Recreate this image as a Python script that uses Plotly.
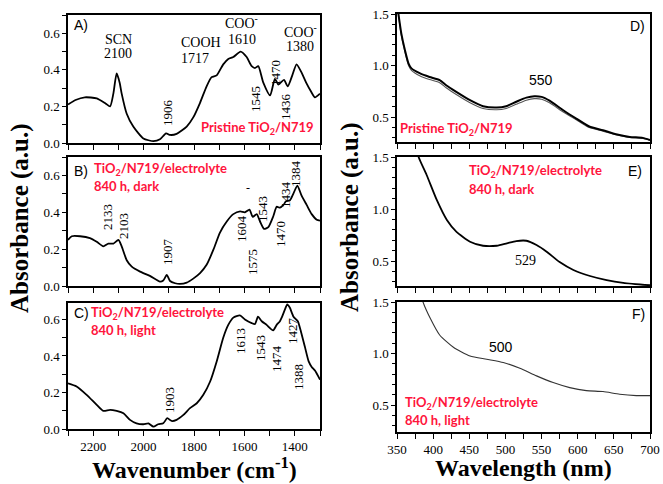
import plotly.graph_objects as go

# ---------------- data ----------------
wn_A = [2300, 2270, 2233, 2186, 2150, 2133, 2120, 2107, 2095, 2087, 2067, 2041, 2001, 1961, 1935,
        1911, 1895, 1869, 1829, 1803, 1776, 1750, 1730, 1710, 1684, 1664, 1644, 1615, 1591, 1571,
        1558, 1545, 1525, 1498, 1479, 1465, 1443, 1428, 1410, 1393, 1375, 1355, 1335, 1320, 1300]
abs_A = [0.21, 0.235, 0.25, 0.244, 0.215, 0.20, 0.27, 0.38, 0.33, 0.27, 0.16, 0.09, 0.025, 0.01, 0.02,
         0.053, 0.044, 0.05, 0.09, 0.14, 0.22, 0.31, 0.36, 0.37, 0.43, 0.46, 0.47, 0.50, 0.47, 0.42,
         0.41, 0.42, 0.33, 0.26, 0.35, 0.32, 0.345, 0.31, 0.37, 0.43, 0.39, 0.33, 0.28, 0.25, 0.27]

wn_B = [2300, 2285, 2252, 2213, 2186, 2160, 2140, 2120, 2100, 2087, 2067, 2047, 2014, 1975, 1935,
        1922, 1908, 1895, 1875, 1856, 1829, 1803, 1776, 1750, 1723, 1697, 1670, 1644, 1617, 1598,
        1580, 1567, 1551, 1538, 1522, 1505, 1485, 1472, 1459, 1445, 1435, 1419, 1406, 1390, 1373,
        1353, 1333, 1313, 1300]
abs_B = [0.25, 0.27, 0.27, 0.26, 0.24, 0.215, 0.23, 0.23, 0.25, 0.215, 0.14, 0.105, 0.078, 0.055, 0.024,
         0.03, 0.06, 0.027, 0.015, 0.011, 0.018, 0.04, 0.07, 0.115, 0.197, 0.29, 0.35, 0.39, 0.405, 0.40,
         0.415, 0.375, 0.39, 0.35, 0.31, 0.32, 0.38, 0.43, 0.425, 0.44, 0.46, 0.465, 0.50, 0.545, 0.49,
         0.44, 0.39, 0.36, 0.355]

wn_C = [2300, 2266, 2226, 2186, 2160, 2133, 2107, 2080, 2054, 2028, 2001, 1981, 1961, 1942, 1922,
        1906, 1889, 1869, 1842, 1816, 1789, 1763, 1736, 1710, 1684, 1664, 1644, 1618, 1598, 1571,
        1558, 1546, 1531, 1512, 1486, 1472, 1459, 1452, 1439, 1430, 1420, 1405, 1388, 1375, 1360,
        1345, 1333, 1320, 1300]
abs_C = [0.25, 0.233, 0.187, 0.132, 0.099, 0.105, 0.099, 0.086, 0.05, 0.031, 0.026, 0.031, 0.013, 0.026, 0.031,
         0.059, 0.044, 0.05, 0.077, 0.114, 0.141, 0.187, 0.26, 0.37, 0.50, 0.57, 0.61, 0.622, 0.60, 0.58,
         0.575, 0.615, 0.59, 0.57, 0.54, 0.57, 0.59, 0.61, 0.655, 0.683, 0.665, 0.615, 0.59, 0.53, 0.45,
         0.37, 0.34, 0.32, 0.27]

wl_D = [348, 352, 356, 361, 366, 370, 382, 395, 409, 418, 432, 451, 469, 488, 501, 515, 529, 540,
        550, 561, 580, 598, 616, 635, 653, 672, 690, 700]
abs_D1 = [1.7, 1.5, 1.31, 1.15, 1.02, 0.973, 0.924, 0.89, 0.86, 0.81, 0.746, 0.665, 0.607, 0.594,
          0.607, 0.65, 0.69, 0.704, 0.697, 0.66, 0.568, 0.487, 0.41, 0.374, 0.335, 0.309, 0.30, 0.28]
abs_D2 = [1.7, 1.49, 1.29, 1.13, 1.0, 0.955, 0.90, 0.865, 0.835, 0.785, 0.72, 0.64, 0.585, 0.572,
          0.585, 0.625, 0.665, 0.68, 0.675, 0.64, 0.55, 0.475, 0.40, 0.365, 0.33, 0.303, 0.295, 0.278]

wl_E = [370, 380, 391, 405, 419, 432, 451, 469, 488, 502, 515, 529, 543, 557, 575, 594, 617, 640,
        663, 700]
abs_E = [1.75, 1.497, 1.327, 1.087, 0.894, 0.782, 0.686, 0.647, 0.647, 0.67, 0.692, 0.695, 0.654,
         0.59, 0.49, 0.414, 0.356, 0.317, 0.291, 0.267]

wl_F = [378, 386, 396, 409, 428, 451, 474, 497, 520, 543, 566, 589, 612, 635, 658, 681, 700]
abs_F = [1.7, 1.5, 1.342, 1.18, 1.061, 0.977, 0.945, 0.913, 0.858, 0.784, 0.719, 0.67, 0.641,
         0.632, 0.606, 0.593, 0.593]

# ---------------- layout helpers ----------------
W, H = 663, 484
def px(x): return x / W
def py(y): return 1 - y / H

SERIF = "Liberation Serif"
SANS = "Liberation Sans"
RED = "rgb(255,20,60)"

fig = go.Figure()
def add(x, y, ax, color="black", width=1.8):
    fig.add_trace(go.Scatter(x=x, y=y, mode="lines", xaxis="x" + ax, yaxis="y" + ax,
                             line=dict(color=color, width=width, shape="spline", smoothing=0.6),
                             showlegend=False, hoverinfo="skip"))

add(wn_A, abs_A, "")
add(wn_B, abs_B, "2")
add(wn_C, abs_C, "3")
add(wl_D, abs_D2, "4", color="#555555", width=1.1)
add(wl_D, abs_D1, "4", color="black", width=2)
add(wl_E, abs_E, "5", color="black", width=1.8)
add(wl_F, abs_F, "6", color="#333333", width=1.1)

common = dict(showline=True, mirror=True, linecolor="black", linewidth=1.5, showgrid=False,
              zeroline=False, ticks="outside", ticklen=5, tickcolor="black", tickwidth=1.2,
              tickfont=dict(family=SERIF, size=13, color="black"), automargin=False)

left_y = [(15, 143), (157, 286), (303, 429)]
right_y = [(14, 142), (157, 286), (302, 432)]
right_lo = [0.26, 0.26, 0.24]

layout = dict(width=W, height=H, margin=dict(l=0, r=0, t=0, b=0),
              paper_bgcolor="white", plot_bgcolor="white")

for i in range(3):
    n = "" if i == 0 else str(i + 1)
    top, bot = left_y[i]
    layout["xaxis" + n] = dict(common, domain=[px(68), px(320)], range=[2300, 1300],
                               anchor="y" + n, tick0=2000, dtick=200,
                               minor=dict(dtick=100, ticks="outside", ticklen=5, tickcolor="black"),
                               showticklabels=(i == 2))
    layout["yaxis" + n] = dict(common, domain=[py(bot), py(top)],
                               range=[0, 0.70 if i < 2 else 0.69], anchor="x" + n,
                               tick0=0, dtick=0.2, tickformat=".1f", ticklen=4,
                               minor=dict(dtick=0.1, ticks="outside", ticklen=4, tickcolor="black"))
for i in range(3):
    n = str(i + 4)
    top, bot = right_y[i]
    layout["xaxis" + n] = dict(common, domain=[px(397), px(650)], range=[350, 700],
                               anchor="y" + n, tick0=350, dtick=50,
                               minor=dict(dtick=25, ticks="outside", ticklen=5, tickcolor="black"),
                               showticklabels=(i == 2))
    layout["yaxis" + n] = dict(common, domain=[py(bot), py(top)], range=[right_lo[i], 1.5],
                               anchor="x" + n, tick0=0.5, dtick=0.5, tickformat=".1f", ticklen=4,
                               minor=dict(dtick=0.1, ticks="outside", ticklen=3, tickcolor="black"))
fig.update_layout(**layout)

ann = []
def T(text, x, y, size=14, family=SERIF, color="black", angle=0, xa="center", ya="middle"):
    ann.append(dict(text=text, x=px(x), y=py(y), xref="paper", yref="paper", showarrow=False,
                    textangle=angle, xanchor=xa, yanchor=ya,
                    font=dict(family=family, size=size, color=color)))

# axis titles
T("<b>Absorbance (a.u.)</b>", 20, 218, size=25, angle=-90)
T("<b>Absorbance (a.u.)</b>", 350, 217, size=25, angle=-90)
T("<b>Wavenumber (cm<sup>-1</sup>)</b>", 194, 468, size=24)
T("<b>Wavelength (nm)</b>", 523, 468, size=24)

# panel letters
for txt, x, y, xa in [("A)", 72, 25, "left"), ("B)", 72, 171, "left"), ("C)", 72, 313, "left"),
                      ("D)", 647, 26, "right"), ("E)", 644, 171, "right"), ("F)", 647, 314, "right")]:
    T(txt, x, y, size=14, family=SANS, xa=xa)

# panel A labels
T("SCN", 118, 39); T("2100", 118, 54)
T("COOH", 201, 42); T("1717", 195, 58)
T("COO<sup>-</sup>", 241, 22); T("1610", 242, 39)
T("COO<sup>-</sup>", 300, 31); T("1380", 300, 47)
for t, x, y in [("1906", 167, 113), ("1545", 255, 99), ("1470", 275, 73), ("1436", 285, 107)]:
    T(t, x, y, size=13, angle=-90)
# panel B labels
for t, x, y in [("2133", 107, 217), ("2103", 123, 226), ("1907", 167, 252), ("1604", 242, 229),
                ("1575", 252, 262), ("1543", 262, 209), ("1470", 280, 234), ("1434", 285, 195),
                ("1384", 295, 174)]:
    T(t, x, y, size=13, angle=-90)
T("-", 248, 188, size=12)
# panel C labels
for t, x, y in [("1903", 169, 400), ("1613", 240, 341), ("1543", 260, 348), ("1474", 276, 359),
                ("1427", 292, 331), ("1388", 298, 377)]:
    T(t, x, y, size=13, angle=-90)
# right panel labels
T("550", 541, 80, size=14, family=SANS)
T("529", 525, 260, size=14)
T("500", 501, 347, size=14, family=SANS)

# red sample labels
RF = "Lato"
T("<b>Pristine TiO<sub>2</sub>/N719</b>", 316, 128, size=13, family=RF, color=RED, xa="right")
T("<b>TiO<sub>2</sub>/N719/electrolyte</b>", 92, 169, size=13, family=RF, color=RED, xa="left")
T("<b>840 h, dark</b>", 92, 186, size=13, family=RF, color=RED, xa="left")
T("<b>TiO<sub>2</sub>/N719/electrolyte</b>", 89, 313, size=13, family=RF, color=RED, xa="left")
T("<b>840 h, light</b>", 89, 330, size=13, family=RF, color=RED, xa="left")
T("<b>Pristine TiO<sub>2</sub>/N719</b>", 398, 129, size=13, family=RF, color=RED, xa="left")
T("<b>TiO<sub>2</sub>/N719/electrolyte</b>", 467, 171, size=13, family=RF, color=RED, xa="left")
T("<b>840 h, dark</b>", 467, 189, size=13, family=RF, color=RED, xa="left")
T("<b>TiO<sub>2</sub>/N719/electrolyte</b>", 403, 403, size=13, family=RF, color=RED, xa="left")
T("<b>840 h, light</b>", 403, 420, size=13, family=RF, color=RED, xa="left")

fig.update_layout(annotations=ann)
fig.write_html("out.html", config={"displayModeBar": False},
               post_script="document.body.style.margin='0px';document.body.style.overflow='hidden';")
